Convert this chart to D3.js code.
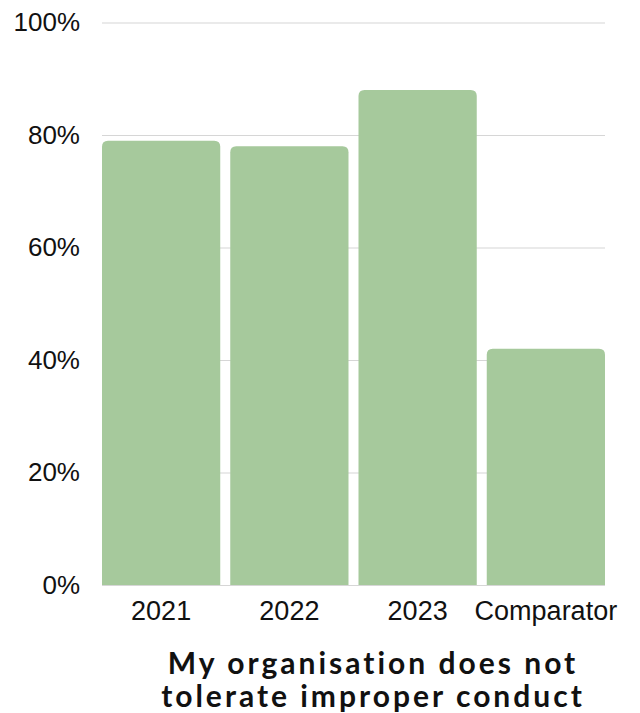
<!DOCTYPE html>
<html lang="en">
<head>
    <meta charset="UTF-8">
    <title>Improper conduct</title>
    <script src="https://cdn.jsdelivr.net/npm/d3@7/dist/d3.min.js"></script>
    <style>
        body { margin: 0; background: #fff; }
        svg { display: block; }
    </style>
</head>
<body>
    <div id="chart"></div>
    <script>
        // data
        const categories = ['2021', '2022', '2023', 'Comparator'];
        const values = [79, 78, 88, 42];
        const yTicks = [0, 20, 40, 60, 80, 100];
        const titleLines = ['My organisation does not', 'tolerate improper conduct'];

        const W = 640, H = 713;
        const margin = { top: 22.5, right: 35, bottom: 128, left: 102 };
        const width = W - margin.left - margin.right;
        const height = H - margin.top - margin.bottom;

        const svg = d3.select('#chart')
            .append('svg')
            .attr('width', W)
            .attr('height', H);

        const g = svg.append('g')
            .attr('transform', `translate(${margin.left}, ${margin.top})`);

        const x = d3.scaleBand()
            .domain(categories)
            .range([0, width])
            .paddingInner(0.078)
            .paddingOuter(0);

        const y = d3.scaleLinear()
            .domain([0, 100])
            .range([height, 0]);

        // gridlines + y labels
        const yAxis = d3.axisLeft(y)
            .tickValues(yTicks)
            .tickSize(-width)
            .tickPadding(22)
            .tickFormat(d => d + '%');

        g.append('g')
            .attr('class', 'y axis')
            .call(yAxis)
            .call(s => s.select('.domain').remove())
            .call(s => s.selectAll('line').attr('stroke', '#d6d6d6').attr('stroke-width', 1.2))
            .call(s => s.selectAll('text')
                .attr('fill', '#111')
                .style('font-family', '"Liberation Sans", Arial, sans-serif')
                .style('font-size', '26px'));

        // bars with rounded tops
        const r = 6;
        const barPath = (cat, v) => {
            const x0 = x(cat), x1 = x0 + x.bandwidth();
            const y0 = y(0), y1 = y(v);
            return `M${x0},${y0}V${y1 + r}Q${x0},${y1} ${x0 + r},${y1}` +
                `H${x1 - r}Q${x1},${y1} ${x1},${y1 + r}V${y0}Z`;
        };

        g.selectAll('.bar')
            .data(categories)
            .enter()
            .append('path')
            .attr('class', 'bar')
            .attr('fill', '#a6c99c')
            .attr('d', (d, i) => barPath(d, values[i]));

        // x labels
        const xAxis = d3.axisBottom(x)
            .tickSize(0)
            .tickPadding(16);

        g.append('g')
            .attr('class', 'x axis')
            .attr('transform', `translate(0, ${height})`)
            .call(xAxis)
            .call(s => s.select('.domain').remove())
            .call(s => s.selectAll('text')
                .attr('fill', '#111')
                .style('font-family', '"Liberation Sans", Arial, sans-serif')
                .style('font-size', '27px'));

        // title
        const title = svg.append('text')
            .attr('text-anchor', 'middle')
            .attr('fill', '#111')
            .style('font-family', 'Lato, "Open Sans", sans-serif')
            .style('font-weight', 'bold')
            .style('font-size', '30px')
            .style('letter-spacing', '3px');

        titleLines.forEach((t, i) => {
            title.append('tspan')
                .attr('x', 373)
                .attr('y', 674 + i * 33)
                .text(t);
        });
    </script>
</body>
</html>
